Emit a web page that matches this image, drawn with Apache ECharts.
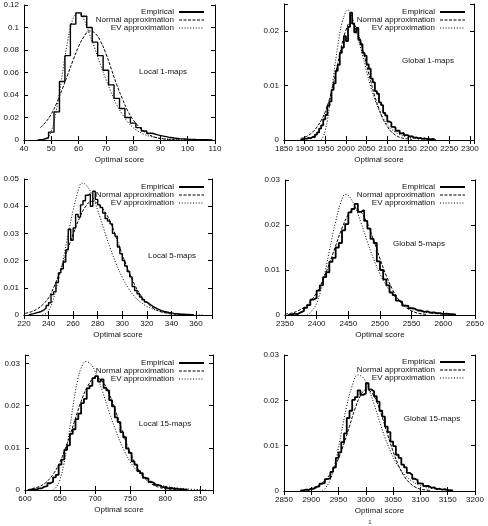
<!DOCTYPE html>
<html>
<head>
<meta charset="utf-8">
<script src="https://cdn.jsdelivr.net/npm/echarts@6/dist/echarts.min.js"></script>
<style>
  html, body { margin: 0; padding: 0; background: #fff; }
  #chart { width: 488px; height: 526px; }
</style>
</head>
<body>
<div id="chart"></div>
<script>
const FONT = '"Liberation Sans", Arial, sans-serif';

// panel setup
const panelLabels = ['Local 1-maps', 'Global 1-maps', 'Local 5-maps', 'Global 5-maps', 'Local 15-maps', 'Global 15-maps'];
const xMins = [40, 1850, 220, 2350, 600, 2850];
const xMaxs = [110, 2310, 373, 2650, 868, 3200];
const xSteps = [10, 50, 20, 50, 50, 50];
const yMaxs = [0.12, 0.025, 0.05, 0.03, 0.032, 0.03];
const ySteps = [0.02, 0.01, 0.01, 0.01, 0.01, 0.01];
const seriesNames = ['Empirical', 'Normal approximation', 'EV approximation'];

// histogram bins: first left edge, bin width, heights
const binStarts = [45, 1890, 224, 2355, 604, 2880];
const binWidths = [2, 5, 2, 5, 4, 5];

const local1Empirical = [0.0005, 0.002, 0.007, 0.025, 0.052, 0.075, 0.103, 0.113, 0.110, 0.100, 0.087, 0.075,
  0.062, 0.049, 0.037, 0.028, 0.020, 0.015, 0.011, 0.008, 0.006, 0.0045, 0.0035, 0.0025, 0.0018, 0.0012,
  0.0009, 0.0006, 0.0004, 0.0003, 0.0002, 0.0001];

const global1Empirical = [0.0001, 0.0003, 0.0002, 0.0004, 0.0003, 0.0006, 0.0005, 0.0010, 0.0014, 0.0021,
  0.0027, 0.0038, 0.0046, 0.0063, 0.0071, 0.0092, 0.0104, 0.0127, 0.0138, 0.0160, 0.0170, 0.0191, 0.0182,
  0.0208, 0.0234, 0.0214, 0.0198, 0.0206, 0.0184, 0.0176, 0.0160, 0.0155, 0.0139, 0.0131, 0.0113, 0.0106,
  0.0090, 0.0085, 0.0069, 0.0064, 0.0050, 0.0045, 0.0034, 0.0032, 0.0024, 0.0023, 0.0017, 0.0017, 0.0012,
  0.0013, 0.0009, 0.0009, 0.0006, 0.0007, 0.0004, 0.0005, 0.0003, 0.0004, 0.0002, 0.0003, 0.0002, 0.0002,
  0.0001, 0.0002, 0.0001];

const local5Empirical = [0.0003, 0.0005, 0.0008, 0.0010, 0.0013, 0.0018, 0.0025, 0.0035, 0.0045, 0.0075,
  0.0085, 0.0120, 0.0155, 0.0170, 0.0195, 0.0240, 0.0315, 0.0275, 0.0320, 0.0370, 0.0360, 0.0405, 0.0420,
  0.0440, 0.0445, 0.0400, 0.0455, 0.0425, 0.0405, 0.0395, 0.0375, 0.0355, 0.0345, 0.0335, 0.0300, 0.0290,
  0.0250, 0.0225, 0.0200, 0.0180, 0.0160, 0.0140, 0.0105, 0.0090, 0.0078, 0.0066, 0.0056, 0.0048, 0.0041,
  0.0035, 0.0029, 0.0024, 0.0020, 0.0016, 0.0013, 0.0011, 0.0009, 0.0008, 0.0006, 0.0005, 0.0004, 0.0003,
  0.0003, 0.0002, 0.0002, 0.0001, 0.0001];

const global5Empirical = [0.0001, 0.0003, 0.0002, 0.0006, 0.0009, 0.0016, 0.0022, 0.0034, 0.0038, 0.0054,
  0.0066, 0.0084, 0.0095, 0.0118, 0.0127, 0.0150, 0.0160, 0.0188, 0.0202, 0.0228, 0.0236, 0.0247, 0.0229,
  0.0233, 0.0209, 0.0192, 0.0169, 0.0160, 0.0119, 0.0100, 0.0079, 0.0066, 0.0050, 0.0044, 0.0032, 0.0029,
  0.0021, 0.0020, 0.0015, 0.0014, 0.0010, 0.0010, 0.0007, 0.0008, 0.0005, 0.0006, 0.0004, 0.0004, 0.0002,
  0.0003, 0.0002, 0.0002, 0.0001];

const local15Empirical = [0.0001, 0.0002, 0.0001, 0.0004, 0.0004, 0.0008, 0.0009, 0.0016, 0.0019, 0.0030,
  0.0036, 0.0060, 0.0072, 0.0095, 0.0106, 0.0133, 0.0144, 0.0168, 0.0181, 0.0206, 0.0216, 0.0241, 0.0247,
  0.0265, 0.0270, 0.0257, 0.0262, 0.0242, 0.0236, 0.0213, 0.0198, 0.0172, 0.0161, 0.0137, 0.0125, 0.0098,
  0.0088, 0.0068, 0.0060, 0.0045, 0.0040, 0.0029, 0.0027, 0.0019, 0.0017, 0.0012, 0.0011, 0.0007, 0.0007,
  0.0004, 0.0005, 0.0003, 0.0003, 0.0002, 0.0002, 0.0001, 0.0001];

const global15Empirical = [0.0001, 0.0003, 0.0002, 0.0005, 0.0005, 0.0009, 0.0010, 0.0016, 0.0018, 0.0026,
  0.0029, 0.0042, 0.0052, 0.0073, 0.0085, 0.0108, 0.0127, 0.0161, 0.0177, 0.0201, 0.0207, 0.0222, 0.0212,
  0.0215, 0.0238, 0.0224, 0.0220, 0.0209, 0.0197, 0.0177, 0.0164, 0.0142, 0.0130, 0.0109, 0.0099, 0.0080,
  0.0073, 0.0058, 0.0052, 0.0040, 0.0036, 0.0027, 0.0024, 0.0017, 0.0016, 0.0011, 0.0011, 0.0007, 0.0008,
  0.0004, 0.0005, 0.0003, 0.0004, 0.0002, 0.0002, 0.0001];

// approximation curves, [score, density]
const local1Normal = [[46, 0.011], [48, 0.016], [50, 0.023], [52, 0.033], [54, 0.045], [56, 0.058], [58, 0.071],
  [60, 0.083], [62, 0.092], [64, 0.097], [66, 0.095], [68, 0.088], [70, 0.077], [72, 0.063], [74, 0.049],
  [76, 0.037], [78, 0.026], [80, 0.018], [82, 0.012], [84, 0.0075], [86, 0.0045], [88, 0.0025], [90, 0.0013],
  [93, 0.0005], [97, 0.0001]];
const local1EV = [[47.5, 0], [49, 0.003], [50, 0.008], [51, 0.016], [52, 0.028], [53, 0.042], [54, 0.058],
  [55, 0.074], [56, 0.088], [57, 0.100], [58, 0.108], [59, 0.112], [60, 0.113], [61, 0.111], [62, 0.107],
  [63, 0.101], [64, 0.094], [66, 0.081], [68, 0.067], [70, 0.054], [72, 0.042], [74, 0.031], [76, 0.023],
  [78, 0.016], [80, 0.011], [82, 0.0075], [84, 0.005], [86, 0.0034], [88, 0.0023], [90, 0.0015], [94, 0.0007],
  [100, 0.0002], [108, 0.00003]];

const global1Normal = [[1890, 0.0003], [1900, 0.0005], [1910, 0.0009], [1920, 0.0015], [1930, 0.0024],
  [1940, 0.0036], [1950, 0.0052], [1960, 0.0075], [1970, 0.0105], [1980, 0.0140], [1990, 0.0175],
  [2000, 0.0202], [2010, 0.0215], [2020, 0.0212], [2030, 0.0195], [2040, 0.0168], [2050, 0.0138],
  [2060, 0.0108], [2070, 0.0080], [2080, 0.0057], [2090, 0.0038], [2100, 0.0025], [2110, 0.0015],
  [2120, 0.0009], [2130, 0.0005], [2140, 0.0003], [2160, 0.0001]];
const global1EV = [[1940, 0], [1945, 0.0006], [1950, 0.0018], [1955, 0.0036], [1960, 0.006], [1965, 0.0088],
  [1970, 0.0118], [1980, 0.0172], [1990, 0.0214], [2000, 0.0236], [2005, 0.0239], [2010, 0.0235],
  [2020, 0.0214], [2030, 0.0186], [2040, 0.0156], [2050, 0.0126], [2060, 0.0098], [2070, 0.0074],
  [2080, 0.0055], [2090, 0.004], [2100, 0.0029], [2110, 0.002], [2130, 0.001], [2150, 0.0005],
  [2180, 0.0002], [2220, 0.00005]];

const local5Normal = [[221, 0.0006], [226, 0.0012], [230, 0.002], [235, 0.0037], [240, 0.0063], [245, 0.011],
  [250, 0.0168], [255, 0.0234], [260, 0.0297], [265, 0.0355], [270, 0.0398], [275, 0.0418], [280, 0.041],
  [285, 0.0385], [290, 0.0345], [295, 0.0285], [300, 0.0222], [305, 0.0163], [310, 0.0112], [315, 0.0072],
  [320, 0.0045], [325, 0.0026], [330, 0.0014], [335, 0.0008], [340, 0.0004], [350, 0.0001], [358, 0.00003]];
const local5EV = [[235, 0], [238, 0.0006], [240, 0.0016], [243, 0.0045], [246, 0.0095], [250, 0.0165],
  [255, 0.0275], [260, 0.0385], [264, 0.0455], [267, 0.0485], [270, 0.048], [275, 0.0445], [280, 0.0385],
  [285, 0.0315], [290, 0.0248], [295, 0.0188], [300, 0.0138], [305, 0.0098], [310, 0.0068], [315, 0.0047],
  [320, 0.0032], [330, 0.0014], [340, 0.0006], [350, 0.00025], [365, 0.00005]];

const global5Normal = [[2350, 0.0002], [2360, 0.0004], [2370, 0.0009], [2380, 0.0017], [2390, 0.003],
  [2400, 0.005], [2410, 0.0078], [2420, 0.0114], [2430, 0.0154], [2440, 0.0193], [2450, 0.0223],
  [2460, 0.0236], [2470, 0.0229], [2480, 0.0203], [2490, 0.0166], [2500, 0.0125], [2510, 0.0087],
  [2520, 0.0056], [2530, 0.0033], [2540, 0.0018], [2550, 0.0009], [2560, 0.0004], [2575, 0.0001]];
const global5EV = [[2385, 0], [2390, 0.0005], [2400, 0.0026], [2410, 0.0075], [2420, 0.0142], [2430, 0.0208],
  [2440, 0.0258], [2445, 0.0268], [2450, 0.0266], [2460, 0.0243], [2470, 0.0205], [2480, 0.0163],
  [2490, 0.0124], [2500, 0.0091], [2510, 0.0065], [2520, 0.0046], [2530, 0.0032], [2540, 0.0022],
  [2560, 0.001], [2580, 0.0004], [2600, 0.00018], [2620, 0.00008]];

const local15Normal = [[610, 0.0003], [620, 0.0008], [630, 0.0018], [640, 0.0037], [650, 0.0067], [660, 0.011],
  [670, 0.016], [680, 0.021], [690, 0.0248], [700, 0.0266], [710, 0.0258], [720, 0.0228], [730, 0.0183],
  [740, 0.0133], [750, 0.0088], [760, 0.0053], [770, 0.0029], [780, 0.0015], [790, 0.0007], [800, 0.0003],
  [815, 0.0001]];
const local15EV = [[640, 0], [645, 0.0008], [650, 0.0025], [655, 0.0058], [660, 0.0105], [665, 0.016],
  [670, 0.0215], [675, 0.026], [680, 0.0289], [687, 0.0305], [695, 0.0296], [700, 0.028], [710, 0.0236],
  [720, 0.0185], [730, 0.0138], [740, 0.0098], [750, 0.0067], [760, 0.0045], [770, 0.003], [780, 0.002],
  [790, 0.0013], [800, 0.0009], [820, 0.0004], [840, 0.00015], [860, 0.00005]];

const global15Normal = [[2880, 0.0002], [2900, 0.0006], [2920, 0.0018], [2940, 0.0047], [2950, 0.0072],
  [2960, 0.0105], [2970, 0.0143], [2980, 0.0181], [2990, 0.0210], [3000, 0.0223], [3010, 0.0218],
  [3020, 0.0197], [3030, 0.0163], [3040, 0.0124], [3050, 0.0087], [3060, 0.0056], [3070, 0.0033],
  [3080, 0.0018], [3090, 0.0009], [3100, 0.0004], [3120, 0.0001]];
const global15EV = [[2920, 0], [2925, 0.0005], [2935, 0.0025], [2945, 0.0068], [2955, 0.0128], [2965, 0.0188],
  [2975, 0.0232], [2985, 0.0256], [2995, 0.025], [3005, 0.0226], [3015, 0.0192], [3025, 0.0154],
  [3035, 0.0118], [3045, 0.0088], [3055, 0.0063], [3065, 0.0045], [3075, 0.0031], [3085, 0.0021],
  [3100, 0.0012], [3120, 0.0006], [3140, 0.0003], [3160, 0.0001]];

const empiricals = [local1Empirical, global1Empirical, local5Empirical, global5Empirical, local15Empirical, global15Empirical];
const normals = [local1Normal, global1Normal, local5Normal, global5Normal, local15Normal, global15Normal];
const evs = [local1EV, global1EV, local5EV, global5EV, local15EV, global15EV];

// layout (pixels)
const grids = [
  { left: 24, top: 5, width: 191, height: 135 },
  { left: 284, top: 4, width: 190, height: 136 },
  { left: 24, top: 179, width: 188, height: 136 },
  { left: 285, top: 180, width: 190, height: 135 },
  { left: 25, top: 355, width: 188, height: 135 },
  { left: 284, top: 355, width: 191, height: 136 },
];
const legendPos = [[283, 8], [22, 8], [283, 183], [22, 183], [283, 359], [22, 358]];
const labelPos = [[163, 72], [428, 61], [172, 256], [419, 244], [165, 424], [432, 419]];
// the finely binned histograms look heavier in the original
const empiricalWidths = [1.4, 1.8, 1.4, 1.8, 1.8, 1.8];

function stepPoints(start, width, vals) {
  const pts = [[start, 0]];
  vals.forEach((v, i) => pts.push([start + i * width, v]));
  pts.push([start + vals.length * width, 0]);
  return pts;
}

function tickLabel(step) {
  return (v) => Math.abs(v / step - Math.round(v / step)) < 1e-6 ? String(+v.toFixed(4)) : '';
}

const axisLineStyle = { show: true, lineStyle: { color: '#000', width: 1 } };
const xAxes = [];
const yAxes = [];
const series = [];
const legends = [];

grids.forEach((g, i) => {
  const xBase = { gridIndex: i, type: 'value', min: xMins[i], max: xMaxs[i], interval: xSteps[i],
    axisLine: axisLineStyle, splitLine: { show: false },
    axisTick: { show: true, inside: true, length: 4, lineStyle: { color: '#000' } } };
  const yBase = { gridIndex: i, type: 'value', min: 0, max: yMaxs[i], interval: ySteps[i],
    axisLine: axisLineStyle, splitLine: { show: false },
    axisTick: { show: true, inside: true, length: 4, lineStyle: { color: '#000' } } };
  xAxes.push(Object.assign({}, xBase, {
    position: 'bottom',
    name: 'Optimal score', nameLocation: 'middle', nameGap: 16,
    nameTextStyle: { fontSize: 8, color: '#111', fontFamily: FONT },
    axisLabel: { fontSize: 8, color: '#111', margin: 5, fontFamily: FONT, formatter: tickLabel(xSteps[i]) },
  }));
  xAxes.push(Object.assign({}, xBase, { position: 'top', axisLabel: { show: false } }));
  yAxes.push(Object.assign({}, yBase, {
    position: 'left',
    axisLabel: { fontSize: 8, color: '#111', margin: 5, fontFamily: FONT, formatter: tickLabel(ySteps[i]) },
  }));
  yAxes.push(Object.assign({}, yBase, { position: 'right', axisLabel: { show: false } }));

  series.push({
    name: seriesNames[0], type: 'line', xAxisIndex: 2 * i, yAxisIndex: 2 * i,
    step: 'end', symbol: 'none', data: stepPoints(binStarts[i], binWidths[i], empiricals[i]),
    lineStyle: { color: '#000', width: empiricalWidths[i] }, silent: true,
  });
  series.push({
    name: seriesNames[1], type: 'line', xAxisIndex: 2 * i, yAxisIndex: 2 * i,
    smooth: 0.4, symbol: 'none', data: normals[i],
    lineStyle: { color: '#000', width: 1, type: [3, 1.5] }, silent: true,
  });
  series.push({
    name: seriesNames[2], type: 'line', xAxisIndex: 2 * i, yAxisIndex: 2 * i,
    smooth: 0.4, symbol: 'none', data: evs[i],
    lineStyle: { color: '#000', width: 1, type: [1, 1.8] }, silent: true,
  });

  legends.push({
    orient: 'vertical', align: 'right', right: legendPos[i][0], top: legendPos[i][1],
    itemWidth: 25, itemHeight: 8, itemGap: 0, padding: 0, selectedMode: false,
    itemStyle: { opacity: 0 },
    textStyle: { fontSize: 8, lineHeight: 8, color: '#111', fontFamily: FONT },
    data: [
      { name: seriesNames[0], lineStyle: { width: 2 } },
      { name: seriesNames[1], lineStyle: { width: 1 } },
      { name: seriesNames[2], lineStyle: { width: 1 } },
    ],
  });
});

const texts = panelLabels.map((t, i) => ({
  type: 'text', x: labelPos[i][0], y: labelPos[i][1],
  style: { text: t, fontSize: 8, fill: '#111', fontFamily: FONT, textAlign: 'center', textVerticalAlign: 'middle' },
}));
texts.push({
  type: 'text', x: 370, y: 522,
  style: { text: '1', fontSize: 6, fill: '#333', fontFamily: FONT, textAlign: 'center', textVerticalAlign: 'middle' },
});

const chart = echarts.init(document.getElementById('chart'), null, { renderer: 'canvas' });
chart.setOption({
  backgroundColor: '#fff',
  animation: false,
  grid: grids,
  xAxis: xAxes,
  yAxis: yAxes,
  legend: legends,
  series: series,
  graphic: texts,
});
</script>
</body>
</html>
